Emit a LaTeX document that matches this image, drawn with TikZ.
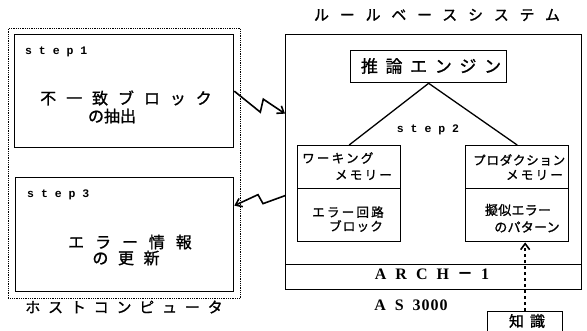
\documentclass[tikz,border=0pt]{standalone}
\usepackage{fontspec}
\newfontfamily\jp{Noto Sans CJK JP}[FakeBold=1.2]
\newfontfamily\jpd{Noto Sans CJK JP}
\newfontfamily\lat{Liberation Serif}
\newfontfamily\mono{Liberation Mono}
\usetikzlibrary{arrows.meta}
\newcommand\jpf[2]{\jp\fontsize{#1}{#1}\selectfont\addfontfeature{LetterSpace=#2}}
\begin{document}
\begin{tikzpicture}[x=1pt,y=-1pt,
  box/.style={draw,line width=1.3pt,rectangle,inner sep=0pt,anchor=north west},
  lbl/.style={inner sep=0pt},
  stp/.style={inner sep=0pt,font=\mono\bfseries\fontsize{11.5}{12}\selectfont},
  bolt/.style={line width=1.6pt,-{Straight Barb[length=6pt,width=9pt,line width=1.6pt]}}]
\useasboundingbox (0,0) rectangle (587,330);

% host computer
\node[draw,densely dotted,line width=0.8pt,rectangle,inner sep=0pt,anchor=north west,minimum width=232pt,minimum height=270pt] (host) at (8,28) {};
\node[lbl,font=\jpf{15}{52}] (hostlbl) at (124,307) {ホストコンピュータ};

\node[box,minimum width=219pt,minimum height=113pt] (s1) at (14,34) {};
\node[stp,anchor=west] (s1t) at (25,52) {s t e p 1};
\node[lbl,font=\jpf{16}{62}] (s1a) at (126,98) {不一致ブロック};
\node[lbl,font=\jpf{16}{0}] (s1b) at (112,116) {の抽出};

\node[box,minimum width=218pt,minimum height=114pt] (s3) at (15,177) {};
\node[stp,anchor=west] (s3t) at (27,195) {s t e p 3};
\node[lbl,font=\jpf{16}{68}] (s3a) at (130,242) {エラー情報};
\node[lbl,font=\jpf{16}{60}] (s3b) at (126,258) {の更新};

% rule-based system
\node[lbl,font=\jpf{15}{72}] (rbs) at (437,15) {ルールベースシステム};
\node[box,minimum width=296pt,minimum height=255pt] (big) at (285,34) {};
\node[box,minimum width=296pt,minimum height=25pt] (arch) at (285,264) {};
\node[lbl,font=\lat\bfseries\fontsize{16}{16}\selectfont] (archt) at (432,274) {A\hspace{9pt}R\hspace{9pt}C\hspace{9pt}H\hspace{8pt}{\jpd－}\hspace{8pt}1};
\node[lbl,font=\lat\bfseries\fontsize{16}{16}\selectfont] (as) at (411,305) {A\hspace{9pt}S\hspace{9pt}3\hspace{1pt}0\hspace{1pt}0\hspace{1pt}0};

\node[box,minimum width=156pt,minimum height=32pt] (eng) at (350,50) {};
\node[lbl,font=\jpf{17}{45}] (engt) at (431,66) {推論エンジン};
\node[stp] (s2t) at (428,130) {s t e p 2};

\node[box,minimum width=103pt,minimum height=43pt] (wmtop) at (297,145) {};
\node[box,minimum width=103pt,minimum height=53pt] (wmbot) at (297,188) {};
\node[lbl,font=\jpf{12.5}{18},anchor=west] (wm1) at (302,158) {ワーキング};
\node[lbl,font=\jpf{12.5}{18},anchor=east] (wm2) at (392,175) {メモリー};
\node[lbl,font=\jpf{12.5}{18}] (wm3) at (348,212) {エラー回路};
\node[lbl,font=\jpf{12.5}{10}] (wm4) at (356,226) {ブロック};

\node[box,minimum width=103pt,minimum height=43pt] (pmtop) at (465,145) {};
\node[box,minimum width=103pt,minimum height=53pt] (pmbot) at (465,188) {};
\node[lbl,font=\jpf{12.5}{6},anchor=west] (pm1) at (473,160) {プロダクション};
\node[lbl,font=\jpf{12.5}{18},anchor=east] (pm2) at (563,175) {メモリー};
\node[lbl,font=\jpf{13}{2}] (pm3) at (518,210) {擬似エラー};
\node[lbl,font=\jpf{13}{2}] (pm4) at (527,227) {のパターン};

\draw[line width=1.3pt] (eng.south) -- (wmtop.north);
\draw[line width=1.3pt] (eng.south) -- (pmtop.north);

% knowledge
\node[box,minimum width=75pt,minimum height=26pt] (kb) at (487,311) {};
\node[lbl,font=\jpf{15}{40}] (kbt) at (527,321) {知識};
\draw[line width=1.8pt,dash pattern=on 3pt off 3pt,-{Straight Barb[length=6pt,width=9pt,line width=1.6pt]}] (kb.north) -- (kb.north |- pmbot.south);

% lightning arrows
\draw[bolt] (s1.east) -- ++(26,21) -- ++(3,-13) -- ([yshift=48.5pt]big.west);
\draw[bolt] ([yshift=-33.5pt]big.west) -- ++(-22,8) -- ++(-5,-9) -- ([yshift=29pt]s3.east);
\end{tikzpicture}
\end{document}
